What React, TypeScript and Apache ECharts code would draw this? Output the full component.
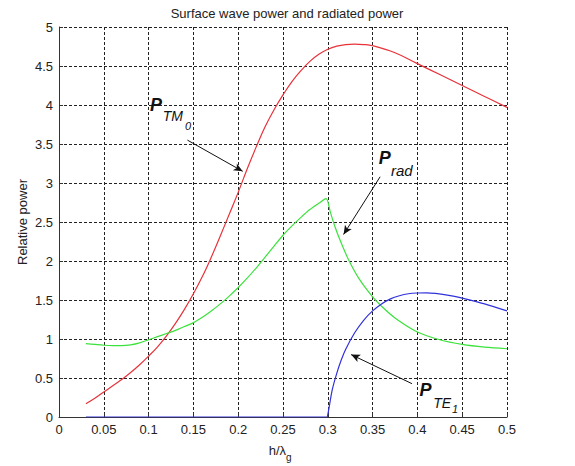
import React, { useEffect, useRef } from "react";
import * as echarts from "echarts";

// ---- data ----
const tmX = [0.03, 0.04, 0.05, 0.06, 0.07, 0.08, 0.09, 0.1, 0.11, 0.12, 0.13, 0.14, 0.15, 0.16, 0.17, 0.18, 0.19, 0.2, 0.21, 0.22, 0.23, 0.24, 0.25, 0.26, 0.27, 0.28, 0.29, 0.3, 0.31, 0.32, 0.33, 0.34, 0.35, 0.375, 0.4, 0.425, 0.45, 0.475, 0.5];
const tmY = [0.17, 0.24, 0.32, 0.4, 0.48, 0.57, 0.67, 0.78, 0.9, 1.04, 1.2, 1.38, 1.58, 1.8, 2.05, 2.32, 2.6, 2.88, 3.18, 3.46, 3.72, 3.94, 4.13, 4.3, 4.44, 4.56, 4.65, 4.715, 4.755, 4.775, 4.78, 4.775, 4.76, 4.67, 4.53, 4.39, 4.25, 4.11, 3.97];

const radX = [0.03, 0.04, 0.05, 0.06, 0.07, 0.08, 0.09, 0.1, 0.11, 0.12, 0.13, 0.14, 0.15, 0.16, 0.17, 0.18, 0.19, 0.2, 0.21, 0.22, 0.23, 0.24, 0.25, 0.26, 0.27, 0.28, 0.29, 0.298, 0.303, 0.308, 0.315, 0.323, 0.335, 0.35, 0.36, 0.375, 0.4, 0.425, 0.45, 0.475, 0.5];
const radY = [0.94, 0.93, 0.92, 0.915, 0.915, 0.925, 0.95, 0.99, 1.03, 1.07, 1.11, 1.16, 1.21, 1.28, 1.36, 1.45, 1.55, 1.66, 1.78, 1.91, 2.05, 2.19, 2.33, 2.45, 2.56, 2.66, 2.74, 2.8, 2.62, 2.44, 2.23, 2.02, 1.77, 1.54, 1.42, 1.27, 1.09, 0.99, 0.93, 0.895, 0.875];

const teX = [0.03, 0.1, 0.2, 0.29, 0.299, 0.3, 0.305, 0.31, 0.315, 0.32, 0.33, 0.34, 0.35, 0.36, 0.37, 0.38, 0.39, 0.4, 0.41, 0.42, 0.43, 0.44, 0.45, 0.475, 0.5];
const teY = [0, 0, 0, 0, 0, 0.03, 0.35, 0.56, 0.73, 0.87, 1.08, 1.24, 1.36, 1.45, 1.515, 1.555, 1.58, 1.59, 1.592, 1.585, 1.57, 1.55, 1.525, 1.45, 1.36];

const xTicks = [0, 0.05, 0.1, 0.15, 0.2, 0.25, 0.3, 0.35, 0.4, 0.45, 0.5];
const yTicks = [0, 0.5, 1, 1.5, 2, 2.5, 3, 3.5, 4, 4.5, 5];

const titleText = "Surface wave power and radiated power";
const yName = "Relative power";

// annotation anchors in data coordinates: [x, y]
const arrowTM: number[][] = [[0.1433, 3.55], [0.205, 3.15]];
const arrowRad: number[][] = [[0.3584, 3.08], [0.3176, 2.34]];
const arrowTE: number[][] = [[0.394, 0.427], [0.326, 0.8]];

const labelTM = [
  { t: "P", at: [0.1015, 4.0], k: "big" },
  { t: "TM", at: [0.1158, 3.855], k: "sub" },
  { t: "0", at: [0.1405, 3.73], k: "sub2" },
];
const labelRad = [
  { t: "P", at: [0.3568, 3.325], k: "big" },
  { t: "rad", at: [0.3705, 3.165], k: "subr" },
];
const labelTE = [
  { t: "P", at: [0.4024, 0.352], k: "big" },
  { t: "TE", at: [0.4176, 0.18], k: "sub" },
  { t: "1", at: [0.4385, 0.1], k: "sub2" },
];

const FONT = '"Liberation Sans", Arial, Helvetica, sans-serif';

const pairs = (xs: number[], ys: number[]) => xs.map((x, i) => [x, ys[i]]);

export default function App() {
  const ref = useRef<HTMLDivElement>(null);

  useEffect(() => {
    if (!ref.current) return;
    const chart = echarts.init(ref.current, null, { renderer: "svg" });

    const arrowLine = (pts: number[][]) => [{ coord: pts[0] }, { coord: pts[1] }];

    chart.setOption({
      animation: false,
      backgroundColor: "#ffffff",
      title: {
        text: titleText,
        left: 282,
        textAlign: "center",
        top: 2,
        textStyle: { fontFamily: FONT, fontSize: 13, fontWeight: "normal", color: "#222" },
      },
      grid: { left: 59, right: 68, top: 27, bottom: 49 },
      xAxis: {
        type: "value",
        min: 0,
        max: 0.5,
        interval: 0.05,
        axisLine: { show: true, lineStyle: { color: "#333", width: 1 } },
        axisTick: { show: true, inside: true, length: 4, lineStyle: { color: "#333" } },
        axisLabel: {
          margin: 6,
          fontFamily: FONT,
          fontSize: 13,
          color: "#222",
          formatter: (v: number) => {
            const m = xTicks.find((t) => Math.abs(t - v) < 1e-9);
            return m === undefined ? "" : String(+m.toFixed(2));
          },
        },
        splitLine: { show: true, lineStyle: { color: "#222", type: [3, 2], width: 1 } },
      },
      yAxis: {
        type: "value",
        min: 0,
        max: 5,
        interval: 0.5,
        axisLine: { show: true, lineStyle: { color: "#333", width: 1 } },
        axisTick: { show: true, inside: true, length: 4, lineStyle: { color: "#333" } },
        axisLabel: {
          margin: 6,
          fontFamily: FONT,
          fontSize: 13,
          color: "#222",
          formatter: (v: number) => {
            const m = yTicks.find((t) => Math.abs(t - v) < 1e-9);
            return m === undefined ? "" : String(m);
          },
        },
        splitLine: { show: true, lineStyle: { color: "#222", type: [3, 2], width: 1 } },
      },
      series: [
        {
          type: "line",
          name: "P_TM0",
          data: pairs(tmX, tmY),
          showSymbol: false,
          smooth: 0.4,
          lineStyle: { color: "#e8323a", width: 1.2 },
          z: 3,
          markLine: {
            silent: true,
            symbol: ["none", "arrow"],
            symbolSize: [6, 9],
            label: { show: false },
            lineStyle: { color: "#111", width: 1, type: "solid" },
            emphasis: { disabled: true },
            data: [arrowLine(arrowTM), arrowLine(arrowRad), arrowLine(arrowTE)],
          },
        },
        {
          type: "line",
          name: "P_rad",
          data: pairs(radX, radY),
          showSymbol: false,
          smooth: 0.3,
          lineStyle: { color: "#3ce23c", width: 1.2 },
          z: 3,
        },
        {
          type: "line",
          name: "P_TE1",
          data: pairs(teX, teY),
          showSymbol: false,
          smooth: 0.3,
          lineStyle: { color: "#3232dc", width: 1.2 },
          z: 4,
        },
      ],
    });

    const px = (p: number[]) => chart.convertToPixel({ gridIndex: 0 }, p) as number[];
    const styleOf = (k: string) =>
      k === "big"
        ? { fontSize: 18, fontWeight: "bold", fontStyle: "italic" }
        : k === "subr"
        ? { fontSize: 15, fontWeight: "normal", fontStyle: "italic" }
        : k === "sub"
        ? { fontSize: 14, fontWeight: "normal", fontStyle: "italic" }
        : { fontSize: 11, fontWeight: "normal", fontStyle: "italic" };

    const labelEls = [...labelTM, ...labelRad, ...labelTE].map((l) => {
      const p = px(l.at);
      return {
        type: "text",
        x: p[0],
        y: p[1],
        z: 10,
        style: {
          text: l.t,
          fontFamily: FONT,
          ...styleOf(l.k),
          fill: "#111",
          align: "left",
          verticalAlign: "middle",
        },
      };
    });

    const origin = px([0, 0]);
    const top = px([0, 5]);
    const mid = px([0.25, 2.5]);

    chart.setOption({
      graphic: [
        ...labelEls,
        {
          type: "text",
          x: mid[0] + 3,
          y: origin[1] + 33,
          style: { text: "h/λ", fontFamily: FONT, fontSize: 13, fill: "#222", align: "right", verticalAlign: "middle" },
        },
        {
          type: "text",
          x: mid[0] + 3,
          y: origin[1] + 40,
          style: { text: "g", fontFamily: FONT, fontSize: 10, fill: "#222", align: "left", verticalAlign: "middle" },
        },
        {
          type: "text",
          x: origin[0] - 37,
          y: (origin[1] + top[1]) / 2,
          rotation: Math.PI / 2,
          style: { text: yName, fontFamily: FONT, fontSize: 13, fill: "#222", align: "center", verticalAlign: "middle" },
        },
      ],
    });

    return () => chart.dispose();
  }, []);

  return (
    <div
      ref={ref}
      style={{ position: "fixed", left: 0, top: 0, width: 575, height: 466, background: "#fff" }}
    />
  );
}
